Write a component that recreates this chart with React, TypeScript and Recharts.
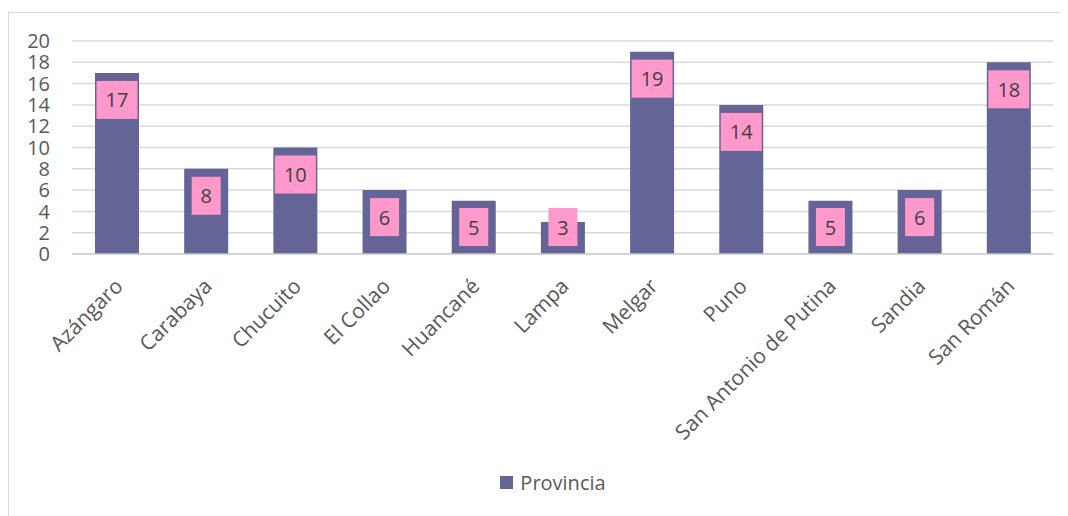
import React from 'react';
import { BarChart, Bar, XAxis, YAxis, CartesianGrid, Legend, LabelList } from 'recharts';

const provincias = [
  'Azángaro',
  'Carabaya',
  'Chucuito',
  'El Collao',
  'Huancané',
  'Lampa',
  'Melgar',
  'Puno',
  'San Antonio de Putina',
  'Sandia',
  'San Román',
];
const valores = [17, 8, 10, 6, 5, 3, 19, 14, 5, 6, 18];
const yTicks = [0, 2, 4, 6, 8, 10, 12, 14, 16, 18, 20];

const data = provincias.map((p, i) => ({ name: p, Provincia: valores[i] }));

const FONT = '"Open Sans", sans-serif';
const BAR_COLOR = '#646496';
const LABEL_BG = '#ff99cc';

// pink value box near the top of each bar
const ValueBox = (props: any) => {
  const { x, y, width, height, value } = props;
  const w = String(value).length > 1 ? 41 : 29;
  const h = 38;
  const top = Math.min(y + 8, y + height - 46);
  const cx = x + width / 2;
  return (
    <g>
      <rect x={cx - w / 2} y={top} width={w} height={h} fill={LABEL_BG} />
      <text
        x={cx}
        y={top + h / 2}
        textAnchor="middle"
        dominantBaseline="central"
        fill="#404040"
        fontSize={20}
        fontFamily={FONT}
      >
        {value}
      </text>
    </g>
  );
};

const CategoryTick = (props: any) => {
  const { x, y, payload } = props;
  return (
    <g transform={`translate(${x - 1},${y + 17})`}>
      <text
        transform="rotate(-45)"
        textAnchor="end"
        dy={12}
        fill="#595959"
        fontSize={21}
        fontFamily={FONT}
      >
        {payload.value}
      </text>
    </g>
  );
};

const LegendBox = () => (
  <div
    style={{
      display: 'flex',
      justifyContent: 'center',
      alignItems: 'center',
      paddingLeft: 44,
      fontFamily: FONT,
      fontSize: 20,
      color: '#595959',
    }}
  >
    <span style={{ width: 13, height: 13, background: BAR_COLOR, marginRight: 7 }} />
    <span>Provincia</span>
  </div>
);

export default function App() {
  return (
    <div
      style={{
        marginTop: 4,
        width: 1060,
        height: 504,
        borderLeft: '1.5px solid #d9d9d9',
        borderTop: '1.5px solid #d9d9d9',
        background: '#fff',
      }}
    >
      <BarChart
        width={1059}
        height={503}
        data={data}
        margin={{ top: 28, right: 15, left: 0, bottom: 20 }}
        barSize={44}
      >
        <CartesianGrid vertical={false} stroke="#d9d9d9" strokeWidth={1.5} />
        <XAxis
          dataKey="name"
          interval={0}
          height={215}
          tickLine={false}
          axisLine={{ stroke: '#d0d0d0', strokeWidth: 1.5 }}
          tick={<CategoryTick />}
        />
        <YAxis
          width={63}
          domain={[0, 20]}
          ticks={yTicks}
          interval={0}
          tickLine={false}
          axisLine={false}
          tickSize={0}
          tickMargin={22}
          tick={{ fill: '#595959', fontSize: 20, fontFamily: FONT }}
        />
        <Legend verticalAlign="bottom" content={<LegendBox />} />
        <Bar dataKey="Provincia" fill={BAR_COLOR} isAnimationActive={false}>
          <LabelList dataKey="Provincia" content={<ValueBox />} />
        </Bar>
      </BarChart>
    </div>
  );
}
